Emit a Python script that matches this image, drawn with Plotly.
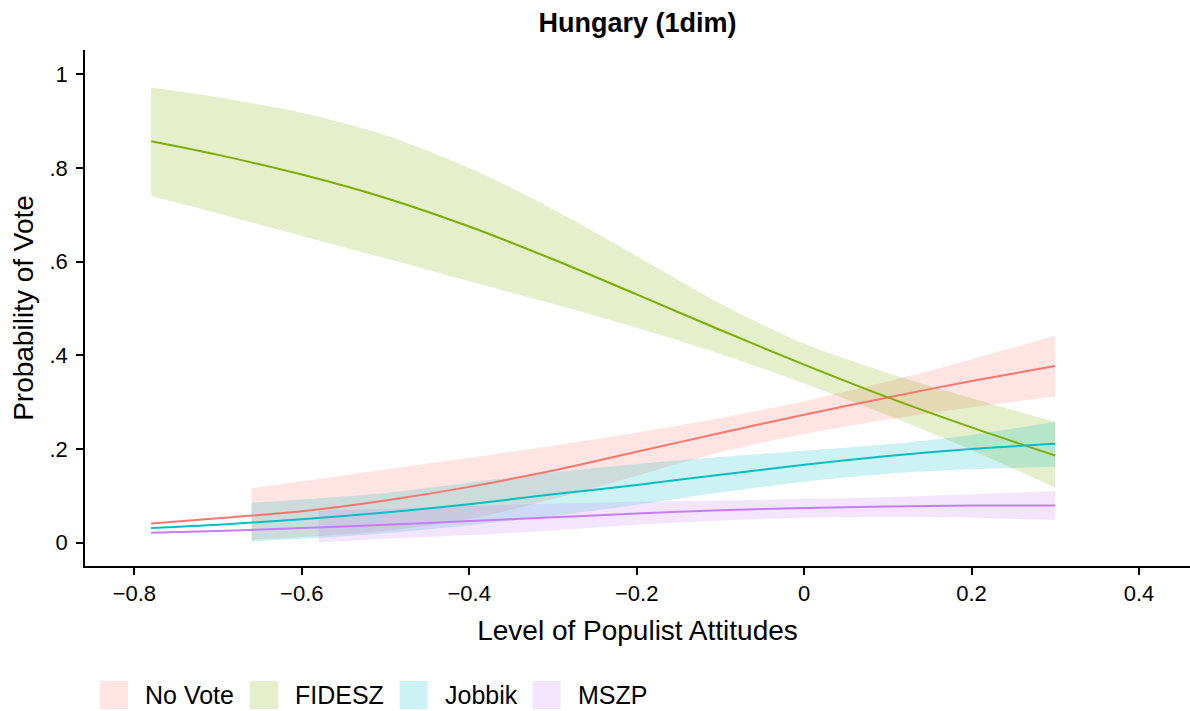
import plotly.graph_objects as go

# ---------------- data ----------------
x_line = [-0.78, -0.7, -0.6, -0.5, -0.4, -0.3, -0.2, -0.1, 0.0, 0.1, 0.2, 0.3]

novote_mid = [0.041, 0.052, 0.067, 0.090, 0.119, 0.154, 0.194, 0.234, 0.273, 0.310, 0.345, 0.377]
fidesz_mid = [0.857, 0.828, 0.786, 0.736, 0.675, 0.605, 0.530, 0.454, 0.380, 0.310, 0.246, 0.186]
jobbik_mid = [0.031, 0.038, 0.050, 0.064, 0.082, 0.103, 0.123, 0.145, 0.166, 0.185, 0.200, 0.211]
mszp_mid = [0.021, 0.025, 0.031, 0.038, 0.046, 0.054, 0.062, 0.069, 0.074, 0.077, 0.079, 0.079]

x_band_fidesz = [-0.78, -0.7, -0.6, -0.5, -0.4, -0.3, -0.2, -0.1, 0.0, 0.1, 0.2, 0.3]
fidesz_hi = [0.972, 0.951, 0.918, 0.870, 0.800, 0.712, 0.612, 0.510, 0.425, 0.362, 0.308, 0.258]
fidesz_lo = [0.740, 0.703, 0.655, 0.607, 0.558, 0.510, 0.459, 0.403, 0.340, 0.272, 0.198, 0.117]

x_band_novote = [-0.66, -0.6, -0.5, -0.4, -0.3, -0.2, -0.1, 0.0, 0.1, 0.2, 0.3]
novote_hi = [0.116, 0.131, 0.156, 0.181, 0.207, 0.235, 0.266, 0.302, 0.344, 0.391, 0.442]
novote_lo = [0.006, 0.012, 0.025, 0.050, 0.093, 0.143, 0.193, 0.232, 0.263, 0.289, 0.312]

x_band_jobbik = [-0.66, -0.6, -0.5, -0.4, -0.3, -0.2, -0.1, 0.0, 0.1, 0.2, 0.3]
jobbik_hi = [0.085, 0.092, 0.106, 0.128, 0.150, 0.168, 0.183, 0.196, 0.210, 0.230, 0.258]
jobbik_lo = [0.002, 0.008, 0.020, 0.037, 0.057, 0.081, 0.107, 0.130, 0.147, 0.157, 0.162]

x_band_mszp = [-0.58, -0.5, -0.4, -0.3, -0.2, -0.1, 0.0, 0.1, 0.2, 0.3]
mszp_hi = [0.068, 0.072, 0.078, 0.083, 0.087, 0.090, 0.093, 0.097, 0.103, 0.110]
mszp_lo = [0.000, 0.008, 0.016, 0.026, 0.038, 0.047, 0.053, 0.055, 0.053, 0.048]

party_names = ["No Vote", "FIDESZ", "Jobbik", "MSZP"]

x_ticks = [-0.8, -0.6, -0.4, -0.2, 0.0, 0.2, 0.4]
y_ticks = [0, 0.2, 0.4, 0.6, 0.8, 1.0]
y_ticklabels = ["0", ".2", ".4", ".6", ".8", "1"]

# ---------------- styling ----------------
colors = ["#F8766D", "#7CAE00", "#00BFC4", "#C77CFF"]
FONT = "Liberation Sans, Arial, Helvetica, sans-serif"


def rgba(hex_color, a):
    h = hex_color.lstrip("#")
    r, g, b = int(h[0:2], 16), int(h[2:4], 16), int(h[4:6], 16)
    return f"rgba({r},{g},{b},{a})"


series = [
    (party_names[0], colors[0], x_band_novote, novote_lo, novote_hi, novote_mid),
    (party_names[1], colors[1], x_band_fidesz, fidesz_lo, fidesz_hi, fidesz_mid),
    (party_names[2], colors[2], x_band_jobbik, jobbik_lo, jobbik_hi, jobbik_mid),
    (party_names[3], colors[3], x_band_mszp, mszp_lo, mszp_hi, mszp_mid),
]

fig = go.Figure()

# ribbons
for name, col, xb, lo, hi, _ in series:
    fig.add_trace(go.Scatter(
        x=xb, y=lo, mode="lines", line=dict(width=0, shape="spline", smoothing=0.8),
        hoverinfo="skip", showlegend=False))
    fig.add_trace(go.Scatter(
        x=xb, y=hi, mode="lines", line=dict(width=0, shape="spline", smoothing=0.8),
        fill="tonexty", fillcolor=rgba(col, 0.2), name=name, showlegend=False))

# lines
for name, col, _, _, _, mid in series:
    fig.add_trace(go.Scatter(
        x=x_line, y=mid, mode="lines",
        line=dict(color=col, width=2, shape="spline", smoothing=0.8),
        name=name, showlegend=False))

# ---------------- layout ----------------
W, H = 1190, 711
ML, MR, MT, MB = 85, 0, 50, 145
PW, PH = W - ML - MR, H - MT - MB


def px_x(px):
    return (px - ML) / PW


def px_y(py):
    return (H - MB - py) / PH


# manual legend (ggplot style keys)
key_left = [100, 250, 399.6, 532.6]
key_size = 28
key_top = 681
shapes = []
annotations = []
for i, name in enumerate(party_names):
    x0 = key_left[i]
    shapes.append(dict(
        type="rect", xref="paper", yref="paper",
        x0=px_x(x0), x1=px_x(x0 + key_size),
        y0=px_y(key_top + key_size), y1=px_y(key_top),
        fillcolor=rgba(colors[i], 0.2), line=dict(width=0), layer="above"))
    annotations.append(dict(
        text=name, xref="paper", yref="paper",
        x=px_x(x0 + key_size + 15), y=px_y(key_top + key_size / 2),
        xanchor="left", yanchor="middle", showarrow=False,
        font=dict(family=FONT, size=25, color="black")))

axis_common = dict(
    showline=True, linecolor="black", linewidth=1.5,
    ticks="outside", ticklen=7, tickwidth=1.5, tickcolor="black",
    showgrid=False, zeroline=False,
    tickfont=dict(family=FONT, size=22, color="black"),
)

fig.update_layout(
    width=W, height=H,
    margin=dict(l=ML, r=MR, t=MT, b=MB),
    paper_bgcolor="white", plot_bgcolor="white",
    showlegend=False,
    title=dict(text="<b>Hungary (1dim)</b>", x=0.5, xref="paper",
               y=1 - 23 / H, yref="container", yanchor="middle", xanchor="center",
               font=dict(family=FONT, size=27, color="black")),
    xaxis=dict(range=[-0.859, 0.461], tickvals=x_ticks,
               title=dict(text="Level of Populist Attitudes", standoff=15,
                          font=dict(family=FONT, size=28, color="black")),
               **axis_common),
    yaxis=dict(range=[-0.05, 1.052], tickvals=y_ticks, ticktext=y_ticklabels,
               ticklabelstandoff=4,
               title=dict(text="Probability of Vote", standoff=8,
                          font=dict(family=FONT, size=28, color="black")),
               **axis_common),
    shapes=shapes,
    annotations=annotations,
)

fig.write_html("out.html")
